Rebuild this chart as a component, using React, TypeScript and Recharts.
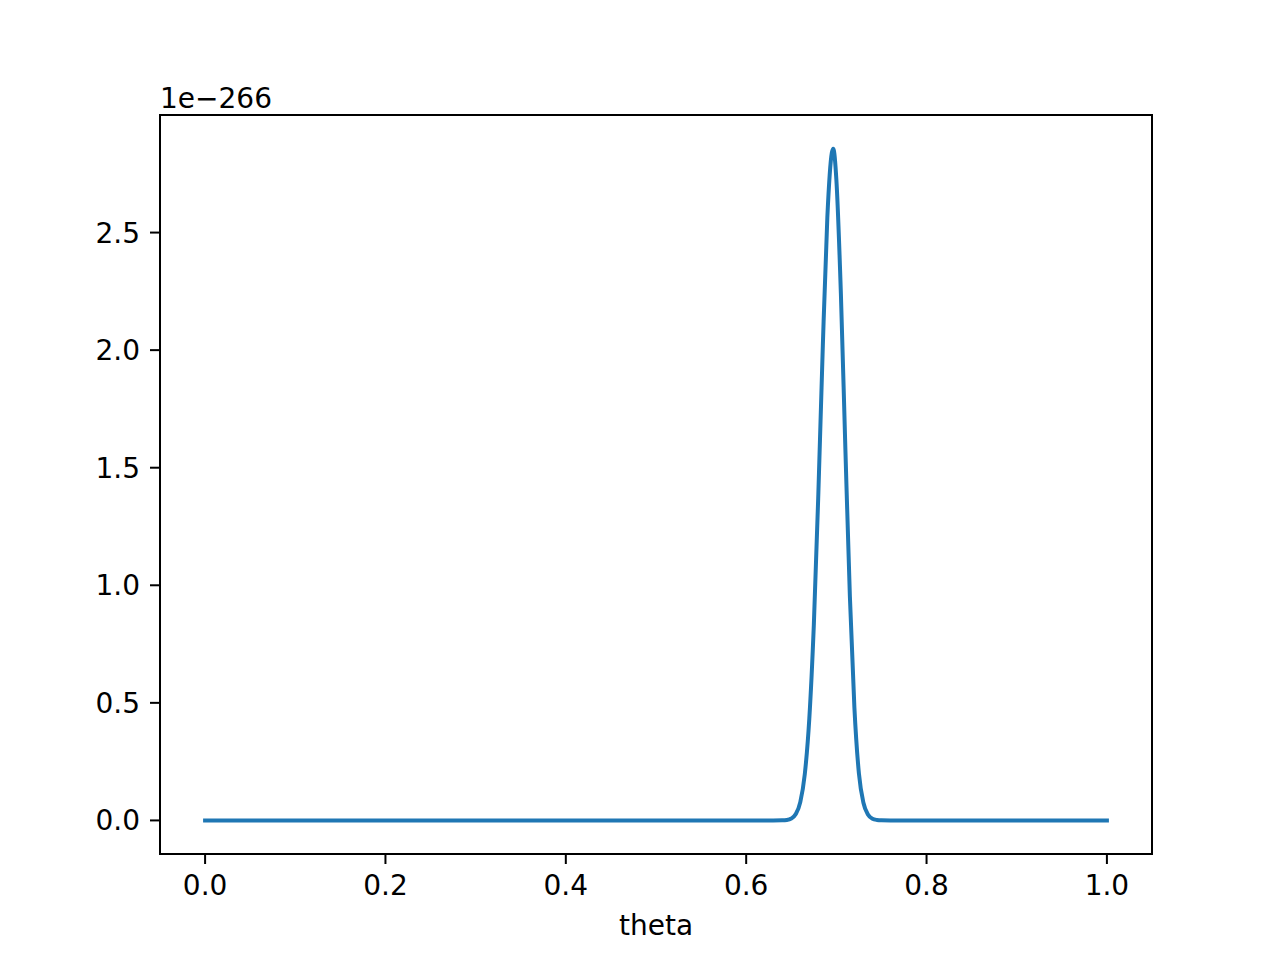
import React from 'react';
import { LineChart, Line, XAxis, YAxis, ReferenceArea } from 'recharts';

// theta grid (baseline + dense sampling around the peak)
const thetaValues = [
  0.0, 0.1, 0.2, 0.3, 0.4, 0.5, 0.6, 0.62, 0.63, 0.64, 0.645, 0.65, 0.655, 0.66, 0.665,
  0.67, 0.675, 0.68, 0.685, 0.69, 0.695, 0.6965, 0.7, 0.705, 0.71, 0.715, 0.72, 0.725,
  0.73, 0.735, 0.74, 0.745, 0.75, 0.76, 0.78, 0.8, 0.9, 1.0,
];

// likelihood, in units of 1e-266
const likelihood = [
  0, 0, 0, 0, 0, 0, 0, 0, 0, 0.0005, 0.002, 0.008, 0.027, 0.078, 0.197,
  0.433, 0.83, 1.387, 2.02, 2.565, 2.84, 2.857, 2.725, 2.242, 1.579, 0.952, 0.48, 0.2,
  0.075, 0.025, 0.007, 0.002, 0.0005, 0, 0, 0, 0, 0,
];

const xTicks = [0, 0.2, 0.4, 0.6, 0.8, 1.0];
const yTicks = [0, 0.5, 1.0, 1.5, 2.0, 2.5];
const xDomain: [number, number] = [-0.05, 1.05];
const yDomain: [number, number] = [-0.1428, 3.0];

const data = thetaValues.map((theta, i) => ({ theta, value: likelihood[i] }));

const FONT = '"DejaVu Sans", sans-serif';
const tickStyle = { fontSize: 28, fill: '#000', fontFamily: FONT };
const axisLine = { stroke: '#000', strokeWidth: 2 };
const tickLine = { stroke: '#000', strokeWidth: 2 };

export default function App() {
  return (
    <div style={{ position: 'relative', width: 1280, height: 960, background: '#fff' }}>
      <style>{'body{margin:0}'}</style>
      <LineChart
        width={1280}
        height={960}
        data={data}
        margin={{ top: 115, right: 128, bottom: 25, left: 60 }}
      >
        <XAxis
          dataKey="theta"
          type="number"
          domain={xDomain}
          ticks={xTicks}
          tickFormatter={v => v.toFixed(1)}
          tick={tickStyle}
          axisLine={axisLine}
          tickLine={tickLine}
          tickSize={10}
          tickMargin={11}
          height={81}
          allowDataOverflow
          label={{ value: 'theta', position: 'insideBottom', offset: 0, fontSize: 28, fill: '#000', fontFamily: FONT }}
        />
        <YAxis
          type="number"
          domain={yDomain}
          ticks={yTicks}
          tickFormatter={v => v.toFixed(1)}
          tick={tickStyle}
          axisLine={axisLine}
          tickLine={tickLine}
          tickSize={10}
          tickMargin={10}
          width={100}
          allowDataOverflow
        />
        {/* axes frame (top and right spines) */}
        <ReferenceArea
          x1={xDomain[0]}
          x2={xDomain[1]}
          y1={yDomain[0]}
          y2={yDomain[1]}
          fill="none"
          fillOpacity={0}
          stroke="#000"
          strokeWidth={2}
          ifOverflow="visible"
        />
        <Line
          type="monotone"
          dataKey="value"
          stroke="#1f77b4"
          strokeWidth={4}
          strokeLinecap="square"
          dot={false}
          isAnimationActive={false}
        />
      </LineChart>
      <div
        style={{
          position: 'absolute',
          left: 160,
          top: 85,
          fontSize: 28,
          lineHeight: '28px',
          fontFamily: FONT,
          color: '#000',
        }}
      >
        1e−266
      </div>
    </div>
  );
}
